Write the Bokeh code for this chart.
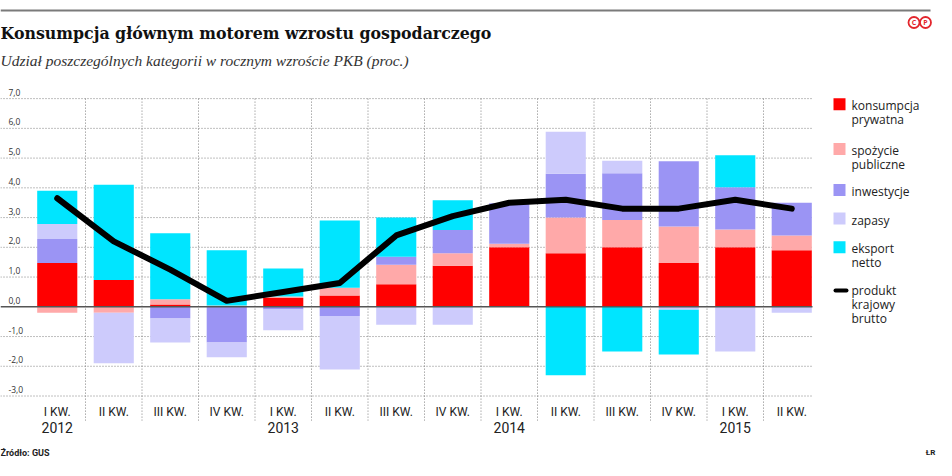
import numpy as np
from bokeh.plotting import figure
from bokeh.models import Range1d, Label
from bokeh.core.properties import value
from bokeh.embed import file_html
from bokeh.resources import INLINE

# ---------------- data ----------------
quarters = ["I KW.", "II KW.", "III KW.", "IV KW.",
            "I KW.", "II KW.", "III KW.", "IV KW.",
            "I KW.", "II KW.", "III KW.", "IV KW.",
            "I KW.", "II KW."]
years = ["2012", "2013", "2014", "2015"]
year_index = [0, 4, 8, 12]

konsumpcja = [1.47, 0.90, 0.08, 0.00, 0.30, 0.38, 0.76, 1.38, 2.00, 1.80, 2.00, 1.47, 2.00, 1.90]
spozycie = [-0.20, -0.20, 0.17, 0.04, 0.05, 0.26, 0.65, 0.42, 0.12, 1.20, 0.92, 1.23, 0.60, 0.50]
inwestycje = [0.81, 0.00, -0.39, -1.20, -0.09, -0.31, 0.27, 0.78, 1.36, 1.47, 1.57, 2.19, 1.42, 1.10]
zapasy = [0.50, -1.70, -0.81, -0.50, -0.70, -1.80, -0.60, -0.60, 0.00, 1.42, 0.42, -0.10, -1.50, -0.20]
eksport = [1.12, 3.20, 2.22, 1.86, 0.94, 2.26, 1.32, 1.00, 0.00, -2.30, -1.50, -1.50, 1.08, 0.00]
pkb = [3.65, 2.20, 1.25, 0.20, 0.50, 0.80, 2.40, 3.05, 3.50, 3.60, 3.30, 3.30, 3.60, 3.30]

series = [konsumpcja, spozycie, inwestycje, zapasy, eksport]
series_labels = [["konsumpcja", "prywatna"], ["spożycie", "publiczne"], ["inwestycje"],
                 ["zapasy"], ["eksport", "netto"]]
pkb_label = ["produkt", "krajowy", "brutto"]
colors = ["#ff0000", "#ffa9a9", "#9b94f4", "#cdcbfc", "#00e5ff"]

yticks = [-3, -2, -1, 0, 1, 2, 3, 4, 5, 6, 7]
ytick_labels = [("%.1f" % t).replace(".", ",") for t in yticks]

title = "Konsumpcja głównym motorem wzrostu gospodarczego"
subtitle = "Udział poszczególnych kategorii w rocznym wzroście PKB (proc.)"
source = "Źródło: GUS"
author = "ŁR"

# ---------------- layout helpers (pixel in picture -> data) ----------------
def X(px):
    return (px - 56.75) / 56.5

def Y(py):
    return (306.3 - py) / 29.74

W, H = 948, 472
p = figure(width=W, height=H, x_range=Range1d(X(0), X(W)), y_range=Range1d(Y(H), Y(0)),
           output_backend="svg", toolbar_location=None, x_axis_location=None, y_axis_location=None,
           min_border=0, min_border_left=0, min_border_right=0, min_border_top=0, min_border_bottom=0)
p.grid.visible = False
p.outline_line_color = None
p.background_fill_color = "white"
p.border_fill_color = "white"

FONT = value("Open Sans")
NARROW = value("Roboto")

# top rule
p.segment(x0=[X(0)], y0=[Y(10)], x1=[X(930)], y1=[Y(10)], line_color="#7a7a7a", line_width=2)

# gridlines
x_left, x_right = X(0), X(812)
hg = [t for t in yticks if t != 0]
p.segment(x0=[x_left] * len(hg), y0=hg, x1=[x_right] * len(hg), y1=hg,
          line_color="#7f7f7f", line_dash="1 2", line_width=1)
vx = [i + 0.5 for i in range(len(quarters) - 1)]
p.segment(x0=vx, y0=[max(yticks)] * len(vx), x1=vx, y1=[Y(420)] * len(vx),
          line_color="#7f7f7f", line_dash="1 2", line_width=1)

# stacked bars
xs = np.arange(len(quarters))
pos = np.zeros(len(quarters))
neg = np.zeros(len(quarters))
for vals, col in zip(series, colors):
    v = np.array(vals, dtype=float)
    bottom = np.where(v >= 0, pos, neg)
    top = bottom + v
    pos = np.where(v >= 0, top, pos)
    neg = np.where(v < 0, top, neg)
    p.vbar(x=xs, width=0.71, bottom=bottom, top=top, fill_color=col, line_color=None)

# zero line
p.segment(x0=[x_left], y0=[0], x1=[x_right], y1=[0], line_color="#555555", line_width=1.5)

# GDP line
p.line(x=xs, y=pkb, line_color="black", line_width=6, line_join="round", line_cap="round")

# y tick labels
p.text(x=[X(8)] * len(yticks), y=yticks, text=ytick_labels, text_baseline="bottom", y_offset=-3,
       text_font=FONT, text_font_size="8.5px", text_color="#333333")

# x labels
p.text(x=xs, y=[Y(411)] * len(xs), text=quarters, text_align="center", text_baseline="middle",
       text_font=NARROW, text_font_size="12px", text_color="#222222")
p.text(x=year_index, y=[Y(427)] * len(years), text=years, text_align="center", text_baseline="middle",
       text_font=NARROW, text_font_size="14px", text_color="#222222")

# titles
p.add_layout(Label(x=X(0), y=Y(33), text=title, text_baseline="middle", text_font="DejaVu Serif",
                   text_font_style="bold", text_font_size="15.8px", text_color="#111111"))
p.add_layout(Label(x=X(0), y=Y(60), text=subtitle, text_baseline="middle", text_font="Liberation Serif",
                   text_font_style="italic", text_font_size="15.5px", text_color="#333333"))

# logo
logo_red = "#e3262d"
p.scatter(x=[X(913.5), X(925)], y=[Y(22), Y(22)], size=11, marker="circle", fill_color=None,
          line_color=logo_red, line_width=1.8)
p.text(x=[X(913.5), X(925)], y=[Y(22), Y(22)], text=["C", "P"], text_align="center",
       text_baseline="middle", text_font=FONT, text_font_style="bold", text_font_size="7px",
       text_color=logo_red)

# legend
sq_y = [103.8, 148.5, 189.5, 218, 246.7]
for lines, col, yy in zip(series_labels, colors, sq_y):
    p.rect(x=[X(839)], y=[Y(yy)], width=12, height=12, width_units="screen", height_units="screen",
           fill_color=col, line_color=None)
    for k, t in enumerate(lines):
        p.add_layout(Label(x=X(851), y=Y(yy + 1.5 + 14 * k), text=t, text_baseline="middle",
                           text_font="Open Sans", text_font_size="12px", text_color="#222222"))
p.segment(x0=[X(835)], y0=[Y(290)], x1=[X(846)], y1=[Y(290)], line_color="black", line_width=4,
          line_cap="round")
for k, t in enumerate(pkb_label):
    p.add_layout(Label(x=X(851), y=Y(290 + 14 * k), text=t, text_baseline="middle",
                       text_font="Open Sans", text_font_size="12px", text_color="#222222"))

# footer
p.add_layout(Label(x=X(0), y=Y(452), text=source, text_baseline="middle", text_font="Roboto",
                   text_font_style="bold", text_font_size="9px", text_color="#222222"))
p.add_layout(Label(x=X(930), y=Y(452), text=author, text_baseline="middle", text_align="center",
                   text_font="Roboto", text_font_style="bold", text_font_size="8px",
                   text_color="#222222"))

open("out.html", "w").write(file_html(p, INLINE))
